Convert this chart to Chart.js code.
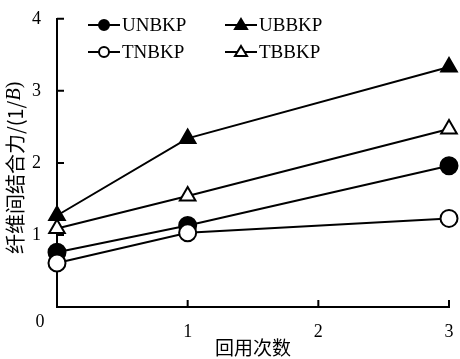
<!DOCTYPE html>
<html>
<head>
<meta charset="utf-8">
<script src="https://cdn.jsdelivr.net/npm/chart.js@4.4.1/dist/chart.umd.min.js"></script>
<style>
  body { margin: 0; background: #fff; }
  #wrap { width: 460px; height: 359px; }
</style>
</head>
<body>
<div id="wrap"><canvas id="chart"></canvas></div>
<script>
// values
const reuseTimes = [0, 1, 3];
const unbkp = [0.76, 1.13, 1.96];
const ubbkp = [1.27, 2.34, 3.33];
const tnbkp = [0.61, 1.03, 1.23];
const tbbkp = [1.09, 1.54, 2.47];
const xTickVals = [1, 2, 3];
const yTickVals = [1, 2, 3, 4];
const xTitle = "回用次数";
const yTitle = ["纤维间结合力/(1/", "B", ")"];

const serif = "'Liberation Serif', 'Noto Sans CJK SC', serif";
const cjk = "'Noto Sans CJK SC', 'Liberation Serif', serif";

function pts(arr) {
    return reuseTimes.map((x, i) => ({ x: x, y: arr[i] }));
}

function series(label, arr, style, filled, order) {
    return {
        label: label,
        data: pts(arr),
        borderColor: "#000",
        borderWidth: 2,
        pointStyle: style,
        pointRadius: style == "triangle" ? 9 : 8.5,
        pointBorderWidth: 2,
        pointBorderColor: "#000",
        pointBackgroundColor: filled ? "#000" : "#fff",
        clip: false,
        order: order
    };
}

const datasets = [
    series("UNBKP", unbkp, "circle", true, 3),
    series("UBBKP", ubbkp, "triangle", true, 4),
    series("TNBKP", tnbkp, "circle", false, 1),
    series("TBBKP", tbbkp, "triangle", false, 2)
];

// legend, inward ticks, origin label and y title drawn by hand
const extras = {
    id: "extras",
    afterDraw(chart) {
        const ctx = chart.ctx;
        const xs = chart.scales.x, ys = chart.scales.y;
        const area = chart.chartArea;
        ctx.save();
        ctx.strokeStyle = "#000";
        ctx.lineWidth = 2;
        ctx.beginPath();
        yTickVals.forEach(v => {
            const p = ys.getPixelForValue(v);
            ctx.moveTo(area.left, p);
            ctx.lineTo(area.left + 7, p);
        });
        xTickVals.forEach(v => {
            const p = xs.getPixelForValue(v);
            ctx.moveTo(p, area.bottom);
            ctx.lineTo(p, area.bottom - 7);
        });
        ctx.stroke();

        ctx.fillStyle = "#000";
        ctx.font = "18px " + serif;
        ctx.textAlign = "center";
        ctx.textBaseline = "middle";
        ctx.fillText("0", 40, 322);

        // legend
        const cols = [88, 225];
        const rows = [25, 52];
        datasets.forEach((ds, i) => {
            const lx = cols[i % 2], ly = rows[Math.floor(i / 2)];
            ctx.beginPath();
            ctx.moveTo(lx, ly);
            ctx.lineTo(lx + 32, ly);
            ctx.stroke();
            const cx = lx + 16;
            ctx.fillStyle = ds.pointBackgroundColor;
            ctx.beginPath();
            if (ds.pointStyle == "circle") {
                ctx.arc(cx, ly, 5, 0, Math.PI * 2);
            } else {
                ctx.moveTo(cx, ly - 6);
                ctx.lineTo(cx + 6, ly + 4);
                ctx.lineTo(cx - 6, ly + 4);
                ctx.closePath();
            }
            ctx.fill();
            ctx.stroke();
            ctx.fillStyle = "#000";
            ctx.textAlign = "left";
            ctx.font = "19px " + serif;
            ctx.fillText(ds.label, lx + 34, ly + 1);
        });

        // y title with italic B
        ctx.translate(15, (area.top + area.bottom) / 2 + 5);
        ctx.rotate(-Math.PI / 2);
        const fonts = ["20px " + cjk, "italic 20px " + serif, "20px " + serif];
        let w = 0;
        yTitle.forEach((t, i) => { ctx.font = fonts[i]; w += ctx.measureText(t).width; });
        let x = -w / 2;
        ctx.textAlign = "left";
        yTitle.forEach((t, i) => {
            ctx.font = fonts[i];
            ctx.fillText(t, x, 0);
            x += ctx.measureText(t).width;
        });
        ctx.restore();
    }
};

new Chart(document.getElementById("chart"), {
    type: "line",
    data: { datasets: datasets },
    options: {
        responsive: true,
        maintainAspectRatio: false,
        animation: false,
        layout: { padding: { top: 17, right: 11, left: 0, bottom: 0 } },
        plugins: {
            legend: { display: false },
            tooltip: { enabled: false }
        },
        scales: {
            x: {
                type: "linear",
                min: 0,
                max: 3,
                afterBuildTicks: s => { s.ticks = xTickVals.map(v => ({ value: v })); },
                grid: { display: false },
                border: { display: true, color: "#000", width: 2 },
                ticks: { color: "#000", font: { family: serif, size: 18 }, padding: 6 },
                title: { display: true, text: xTitle, color: "#000", font: { family: cjk, size: 19 }, padding: { top: 0, bottom: 0 } },
                afterFit: s => { s.height = 52; }
            },
            y: {
                min: 0,
                max: 4,
                afterBuildTicks: s => { s.ticks = yTickVals.map(v => ({ value: v })); },
                grid: { display: false },
                border: { display: true, color: "#000", width: 2 },
                ticks: { color: "#000", font: { family: serif, size: 18 }, padding: 8 },
                afterFit: s => { s.width = 57; }
            }
        }
    },
    plugins: [extras]
});
</script>
</body>
</html>
